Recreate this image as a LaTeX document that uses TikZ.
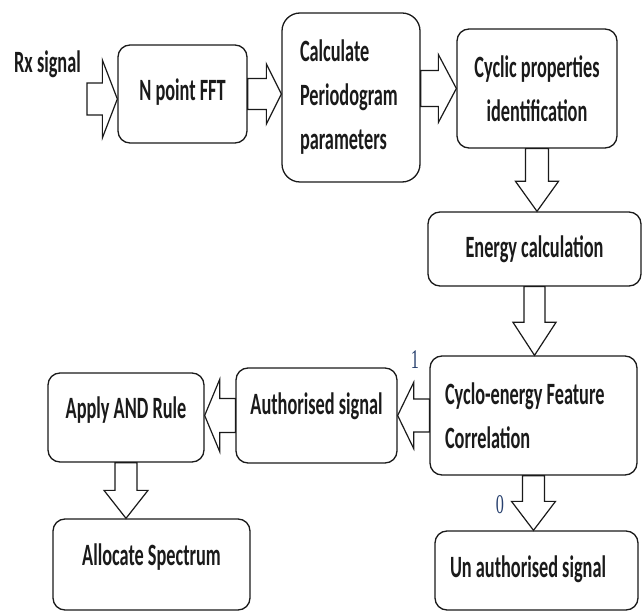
\documentclass[tikz,border=0pt]{standalone}
\usepackage{fontspec}
\usetikzlibrary{calc}
\newfontfamily\diafont{Carlito}[FakeStretch=0.59]
\newfontfamily\numfont{Liberation Serif}[FakeStretch=0.6]
\definecolor{Ink}{HTML}{1A1A1A}
\definecolor{Digit}{HTML}{27406E}

% hollow block arrow: shaft half width, head half width, head length, tail, tip
\newcommand{\fatarrow}[5]{%
  \coordinate (fa-tail) at (#4);
  \coordinate (fa-tip) at (#5);
  \coordinate (fa-base) at ($(fa-tip)!#3!(fa-tail)$);
  \draw[fat] ($(fa-tail)!#1!90:(fa-tip)$) -- ($(fa-base)!#1!-90:(fa-tail)$)
    -- ($(fa-base)!#2!-90:(fa-tail)$) -- (fa-tip)
    -- ($(fa-base)!#2!90:(fa-tail)$) -- ($(fa-base)!#1!90:(fa-tail)$)
    -- ($(fa-tail)!#1!-90:(fa-tip)$) -- cycle;}

\begin{document}
\begin{tikzpicture}[x=1pt,y=-1pt,
    box/.style={draw=Ink,line width=1.3pt,rounded corners=12pt,fill=white,
      align=center,inner sep=0pt,text=Ink,
      font=\diafont\bfseries\fontsize{31}{44}\selectfont},
    lbox/.style={box,align=flush left,inner xsep=15pt,text width=#1},
    plain/.style={text=Ink,inner sep=0pt,
      font=\diafont\bfseries\fontsize{31}{44}\selectfont},
    fat/.style={draw=Ink,line width=1.2pt,fill=white,line join=miter},
    digit/.style={text=Digit,inner sep=0pt,font=\numfont\fontsize{27}{27}\selectfont}
  ]
  \useasboundingbox (0,0) rectangle (643,612);

  % top row
  \node[plain] (rx) at (47.5,64) {Rx signal};
  \coordinate (rxin) at (87,99);
  \node[box,minimum width=129pt,minimum height=98pt,text depth=8pt] (fft) at (182.5,94) {N point FFT};
  \node[lbox=102pt,inner xsep=18pt,minimum width=138pt,minimum height=169pt,rounded corners=18pt] (calc) at (351,97.5)
    {Calculate\\Periodogram\\parameters};
  \node[box,minimum width=160pt,minimum height=119pt] (cyclic) at (537,88.5)
    {Cyclic properties\\identification};

  % right column
  \node[box,minimum width=213pt,minimum height=74pt] (energy) at (534.5,249) {Energy calculation};
  \node[lbox=177pt,minimum width=207pt,minimum height=119pt] (cyclo) at (533.5,415.5)
    {Cyclo-energy Feature\\Correlation};
  \node[lbox=173pt,minimum width=203pt,minimum height=79pt,text depth=8pt] (unauth) at (536.5,570.5)
    {Un authorised signal};

  % left part
  \node[box,minimum width=161pt,minimum height=95pt,text depth=23pt] (auth) at (316.5,415.5) {Authorised signal};
  \node[box,minimum width=156pt,minimum height=89pt,text depth=20pt] (apply) at (126,417.5) {Apply AND Rule};
  \node[box,minimum width=197pt,minimum height=91pt,text depth=20pt] (alloc) at (151.5,564.5) {Allocate Spectrum};

  % decision outcomes
  \node[digit] (one) at (415,360) {1};
  \node[digit] (zero) at (500,505) {0};

  \fatarrow{16pt}{39pt}{15pt}{rxin}{rxin -| fft.west}
  \fatarrow{15.5pt}{30pt}{15pt}{fft.east}{fft.east -| calc.west}
  \fatarrow{18pt}{34pt}{18pt}{cyclic.west -| calc.east}{cyclic.west}
  \fatarrow{11.5pt}{21.5pt}{30pt}{cyclic.south}{cyclic.south |- energy.north}
  \fatarrow{10.5pt}{21.5pt}{33pt}{energy.south}{energy.south |- cyclo.north}
  \fatarrow{16.5pt}{33pt}{16pt}{cyclo.west}{cyclo.west -| auth.east}
  \fatarrow{17pt}{36pt}{15pt}{auth.west}{auth.west -| apply.east}
  \fatarrow{11pt}{22pt}{28pt}{apply.south}{apply.south |- alloc.north}
  \fatarrow{11pt}{22pt}{29pt}{cyclo.south}{cyclo.south |- unauth.north}
\end{tikzpicture}
\end{document}
